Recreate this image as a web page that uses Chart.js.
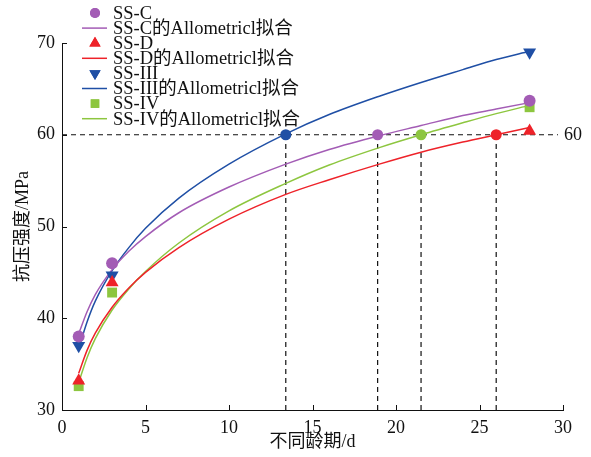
<!DOCTYPE html>
<html>
<head>
<meta charset="utf-8">
<script src="https://cdn.jsdelivr.net/npm/chart.js@4.4.1/dist/chart.umd.min.js"></script>
<style>
    html, body { margin: 0; padding: 0; background: #fff; }
    #wrap { width: 591px; height: 457px; }
</style>
</head>
<body>
<div id="wrap"><canvas id="chart"></canvas></div>
<script>
// measured strengths (MPa) at ages 1, 3, 28 d
const ages = [1, 3, 28];
const ssC  = [38.0, 46.0, 63.7];
const ssD  = [33.2, 43.9, 60.4];
const ss3  = [37.0, 44.7, 69.0];
const ss4  = [32.6, 42.8, 63.0];

// fitted curves
const fitAges = [1, 1.5, 2, 3, 4, 5, 7, 10, 13.4, 16, 19, 21.5, 24, 26, 28];
const fitC    = [38.3, 40.7, 42.6, 45.3, 47.3, 48.9, 51.5, 54.3, 56.8, 58.4, 59.9, 61.0, 62.1, 62.8, 63.5];
const fitD    = [34.0, 36.5, 38.4, 41.2, 43.3, 45.0, 47.7, 50.8, 53.5, 55.1, 56.8, 58.1, 59.2, 60.0, 60.8];
const fit3    = [36.7, 39.6, 41.9, 45.2, 47.7, 49.8, 53.1, 56.8, 60.1, 62.2, 64.2, 65.7, 67.1, 68.2, 69.1];
const fit4    = [33.0, 35.7, 37.8, 40.9, 43.2, 45.1, 48.2, 51.7, 54.7, 56.7, 58.6, 60.0, 61.3, 62.3, 63.2];

// ages where each fit reaches 60 MPa
const target     = 60;
const crossAges  = [13.4, 18.9, 21.5, 26.0];   // SS-III, SS-C, SS-IV, SS-D
const lineEndAge = 29.7;

const labels = ['SS-C', 'SS-D', 'SS-III', 'SS-IV'];
const fitSuffix = '的Allometricl拟合';

const PURPLE = '#a35cb5';
const RED    = '#ee2229';
const BLUE   = '#1f4fa5';
const GREEN  = '#8dc63f';
const crossColors = [BLUE, PURPLE, GREEN, RED];

const SERIF = "'Liberation Serif', 'Noto Sans CJK SC', serif";

const pts = (xs, ys) => xs.map((x, i) => ({ x, y: ys[i] }));

function markerSet(label, ys, color, style, radius, rotation) {
    return {
        label, data: pts(ages, ys), showLine: false,
        pointStyle: style, pointRadius: radius, pointRotation: rotation || 0,
        backgroundColor: color, borderColor: color, borderWidth: 0
    };
}

function fitSet(label, ys, color) {
    return {
        label, data: pts(fitAges, ys), showLine: true,
        borderColor: color, borderWidth: 1.5, pointRadius: 0,
        cubicInterpolationMode: 'monotone'
    };
}

function dashSet(data) {
    return {
        label: '', data, showLine: true, pointRadius: 0,
        borderColor: '#111', borderWidth: 1.2, borderDash: [5, 4]
    };
}

const datasets = [
    {
        label: '', data: crossAges.map(x => ({ x, y: target })), showLine: false,
        pointStyle: 'circle', pointRadius: 5.5, backgroundColor: crossColors, borderWidth: 0
    },
    markerSet(labels[0], ssC, PURPLE, 'circle', 6),
    markerSet(labels[1], ssD, RED, 'triangle', 7.5),
    markerSet(labels[2], ss3, BLUE, 'triangle', 7.5, 180),
    markerSet(labels[3], ss4, GREEN, 'rect', 7),
    fitSet(labels[0] + fitSuffix, fitC, PURPLE),
    fitSet(labels[1] + fitSuffix, fitD, RED),
    fitSet(labels[2] + fitSuffix, fit3, BLUE),
    fitSet(labels[3] + fitSuffix, fit4, GREEN),
    dashSet([{ x: 0, y: target }, { x: lineEndAge, y: target }]),
    ...crossAges.map(x => dashSet([{ x, y: 30 }, { x, y: target }]))
];

// legend order: marker, fit, marker, fit ...
const legendOrder = [1, 5, 2, 6, 3, 7, 4, 8];

const customLegend = {
    id: 'customLegend',
    afterDraw(chart) {
        const ctx = chart.ctx;
        ctx.save();
        ctx.font = '18.5px ' + SERIF;
        ctx.textBaseline = 'middle';
        ctx.fillStyle = '#111';
        legendOrder.forEach((idx, row) => {
            const ds = chart.data.datasets[idx];
            const y = 13 + row * 15.1;
            if (ds.showLine) {
                ctx.strokeStyle = ds.borderColor;
                ctx.lineWidth = 1.5;
                ctx.beginPath();
                ctx.moveTo(82, y);
                ctx.lineTo(107, y);
                ctx.stroke();
            } else {
                ctx.fillStyle = ds.backgroundColor;
                Chart.helpers.drawPoint(ctx, {
                    pointStyle: ds.pointStyle, radius: ds.pointRadius - 1,
                    rotation: ds.pointRotation, borderWidth: 0
                }, 95, y);
                ctx.fill();
            }
            ctx.fillStyle = '#111';
            ctx.fillText(ds.label, 113, y + 1);
        });
        ctx.restore();
    }
};

// inward tick marks + the "60" note at the end of the dashed line
const axisExtras = {
    id: 'axisExtras',
    afterDraw(chart) {
        const { ctx, scales: { x, y } } = chart;
        ctx.save();
        ctx.strokeStyle = '#111';
        ctx.lineWidth = 1;
        ctx.beginPath();
        x.ticks.forEach(t => {
            const px = Math.round(x.getPixelForValue(t.value)) + 0.5;
            ctx.moveTo(px, y.bottom);
            ctx.lineTo(px, y.bottom - 5);
        });
        y.ticks.forEach(t => {
            const py = Math.round(y.getPixelForValue(t.value)) + 0.5;
            ctx.moveTo(x.left, py);
            ctx.lineTo(x.left + 5, py);
        });
        ctx.stroke();

        ctx.font = '18px ' + SERIF;
        ctx.fillStyle = '#111';
        ctx.textBaseline = 'middle';
        ctx.fillText('60', x.getPixelForValue(lineEndAge) + 6, y.getPixelForValue(target) + 1);
        ctx.restore();
    }
};

new Chart(document.getElementById('chart'), {
    type: 'scatter',
    data: { datasets },
    options: {
        responsive: true,
        maintainAspectRatio: false,
        animation: false,
        layout: { padding: { top: 43, right: 28, left: 0, bottom: 0 } },
        plugins: { legend: { display: false }, tooltip: { enabled: false } },
        scales: {
            x: {
                type: 'linear', min: 0, max: 30,
                grid: { display: false, drawTicks: false },
                border: { display: true, color: '#111', width: 1 },
                ticks: { stepSize: 5, padding: 7, color: '#111', font: { family: SERIF, size: 18 } },
                title: { display: true, text: '不同龄期/d', color: '#111', padding: { top: 1 },
                         font: { family: SERIF, size: 18 } },
                afterFit(s) { s.height = 47; }
            },
            y: {
                type: 'linear', min: 30, max: 70,
                grid: { display: false, drawTicks: false },
                border: { display: true, color: '#111', width: 1 },
                ticks: { stepSize: 10, padding: 7, color: '#111', font: { family: SERIF, size: 18 } },
                title: { display: true, text: '抗压强度/MPa', color: '#111', padding: { top: 12 },
                         font: { family: SERIF, size: 18 } },
                afterFit(s) { s.width = 62; }
            }
        }
    },
    plugins: [customLegend, axisExtras]
});
</script>
</body>
</html>
